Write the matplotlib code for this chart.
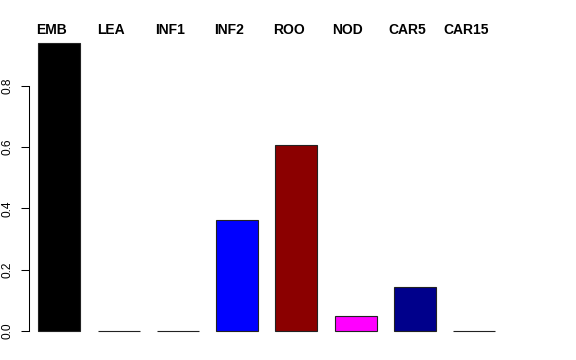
import matplotlib
matplotlib.use("Agg")
import matplotlib.pyplot as plt

categories = ["EMB", "LEA", "INF1", "INF2", "ROO", "NOD", "CAR5", "CAR15"]
values = [0.941, 0.0, 0.0, 0.362, 0.607, 0.050, 0.145, 0.0]
colors = ["#000000", "#FF0000", "#00CD00", "#0000FF", "#8B0000", "#FF00FF", "#00008B", "#A0A0A0"]
yticks = [0.0, 0.2, 0.4, 0.6, 0.8]
ytick_labels = ["0.0", "0.2", "0.4", "0.6", "0.8"]

plt.rcParams["font.family"] = ["Liberation Sans", "DejaVu Sans"]

fig = plt.figure(figsize=(5.76, 3.6), dpi=100)
ax = fig.add_axes([0, 0, 1, 1])

x = list(range(len(categories)))
ax.bar(x, values, width=0.709, color=colors, edgecolor="#222222", linewidth=0.8)

ax.set_xlim(-1.001, 8.722)
ax.set_ylim(-0.0947, 1.0808)

for s in ["top", "right", "bottom"]:
    ax.spines[s].set_visible(False)
ax.spines["left"].set_position(("data", -0.511))
ax.spines["left"].set_bounds(0, 0.8)
ax.spines["left"].set_linewidth(0.75)
ax.set_xticks([])
ax.set_yticks(yticks)
ax.set_yticklabels(ytick_labels, rotation=90, va="center", fontsize=8.6)
ax.tick_params(axis="y", length=5.5, width=0.75, pad=5.5)

for xi, name in zip(x, categories):
    ax.text(xi - 0.13, 0.971, name, ha="center", va="baseline",
            fontsize=10, fontweight="bold")

fig.savefig("out.png", dpi=100)
